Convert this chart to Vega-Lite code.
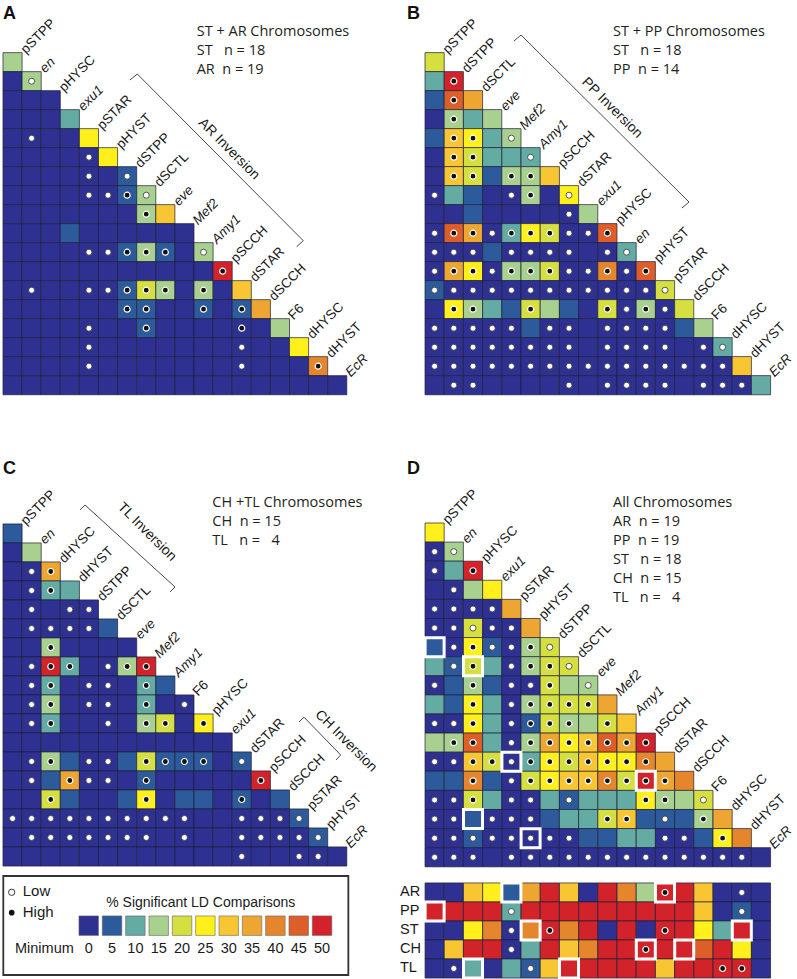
{
"$schema": "https://vega.github.io/schema/vega-lite/v6.json",
"padding": 0,
"background": "white",
"spacing": 5,
"bounds": "flush",
"columns": 2,
"config": {"view": {"stroke": null}, "axis": {"disable": true}},
"datasets": {
"A": [
{"r":0,"c":0,"v":15},
{"r":1,"c":0,"v":0},{"r":1,"c":1,"v":15,"d":"L"},
{"r":2,"c":0,"v":0},{"r":2,"c":1,"v":0},{"r":2,"c":2,"v":0},
{"r":3,"c":0,"v":0},{"r":3,"c":1,"v":0},{"r":3,"c":2,"v":0},{"r":3,"c":3,"v":10},
{"r":4,"c":0,"v":0},{"r":4,"c":1,"v":0,"d":"L"},{"r":4,"c":2,"v":0},{"r":4,"c":3,"v":0},{"r":4,"c":4,"v":25},
{"r":5,"c":0,"v":0},{"r":5,"c":1,"v":0},{"r":5,"c":2,"v":0},{"r":5,"c":3,"v":0},{"r":5,"c":4,"v":0,"d":"L"},{"r":5,"c":5,"v":25},
{"r":6,"c":0,"v":0},{"r":6,"c":1,"v":0},{"r":6,"c":2,"v":0},{"r":6,"c":3,"v":0},{"r":6,"c":4,"v":0,"d":"L"},{"r":6,"c":5,"v":0},{"r":6,"c":6,"v":5,"d":"L"},
{"r":7,"c":0,"v":0},{"r":7,"c":1,"v":0},{"r":7,"c":2,"v":0},{"r":7,"c":3,"v":0},{"r":7,"c":4,"v":0,"d":"L"},{"r":7,"c":5,"v":0,"d":"L"},{"r":7,"c":6,"v":5,"d":"H"},{"r":7,"c":7,"v":15,"d":"L"},
{"r":8,"c":0,"v":0},{"r":8,"c":1,"v":0},{"r":8,"c":2,"v":0},{"r":8,"c":3,"v":0},{"r":8,"c":4,"v":0},{"r":8,"c":5,"v":0},{"r":8,"c":6,"v":0},{"r":8,"c":7,"v":15,"d":"H"},{"r":8,"c":8,"v":30},
{"r":9,"c":0,"v":0},{"r":9,"c":1,"v":0},{"r":9,"c":2,"v":0},{"r":9,"c":3,"v":5},{"r":9,"c":4,"v":0},{"r":9,"c":5,"v":0},{"r":9,"c":6,"v":0},{"r":9,"c":7,"v":0},{"r":9,"c":8,"v":0},{"r":9,"c":9,"v":0},
{"r":10,"c":0,"v":0},{"r":10,"c":1,"v":0},{"r":10,"c":2,"v":0},{"r":10,"c":3,"v":0},{"r":10,"c":4,"v":0,"d":"L"},{"r":10,"c":5,"v":0,"d":"L"},{"r":10,"c":6,"v":5,"d":"H"},{"r":10,"c":7,"v":15,"d":"H"},{"r":10,"c":8,"v":5,"d":"H"},{"r":10,"c":9,"v":0},{"r":10,"c":10,"v":15,"d":"L"},
{"r":11,"c":0,"v":0},{"r":11,"c":1,"v":0},{"r":11,"c":2,"v":0},{"r":11,"c":3,"v":0},{"r":11,"c":4,"v":0},{"r":11,"c":5,"v":0},{"r":11,"c":6,"v":0},{"r":11,"c":7,"v":0},{"r":11,"c":8,"v":0},{"r":11,"c":9,"v":0},{"r":11,"c":10,"v":0},{"r":11,"c":11,"v":50,"d":"H"},
{"r":12,"c":0,"v":0},{"r":12,"c":1,"v":0,"d":"L"},{"r":12,"c":2,"v":0},{"r":12,"c":3,"v":0},{"r":12,"c":4,"v":0,"d":"L"},{"r":12,"c":5,"v":0,"d":"L"},{"r":12,"c":6,"v":5,"d":"H"},{"r":12,"c":7,"v":20,"d":"H"},{"r":12,"c":8,"v":15,"d":"H"},{"r":12,"c":9,"v":0},{"r":12,"c":10,"v":15,"d":"H"},{"r":12,"c":11,"v":0},{"r":12,"c":12,"v":30},
{"r":13,"c":0,"v":0},{"r":13,"c":1,"v":0},{"r":13,"c":2,"v":0},{"r":13,"c":3,"v":0},{"r":13,"c":4,"v":0},{"r":13,"c":5,"v":0},{"r":13,"c":6,"v":5,"d":"H"},{"r":13,"c":7,"v":5,"d":"H"},{"r":13,"c":8,"v":0},{"r":13,"c":9,"v":0},{"r":13,"c":10,"v":5,"d":"H"},{"r":13,"c":11,"v":0},{"r":13,"c":12,"v":5,"d":"H"},{"r":13,"c":13,"v":35},
{"r":14,"c":0,"v":0},{"r":14,"c":1,"v":0},{"r":14,"c":2,"v":0},{"r":14,"c":3,"v":0},{"r":14,"c":4,"v":0,"d":"L"},{"r":14,"c":5,"v":0},{"r":14,"c":6,"v":0},{"r":14,"c":7,"v":5,"d":"H"},{"r":14,"c":8,"v":0},{"r":14,"c":9,"v":0},{"r":14,"c":10,"v":0},{"r":14,"c":11,"v":0},{"r":14,"c":12,"v":0,"d":"H"},{"r":14,"c":13,"v":0},{"r":14,"c":14,"v":15},
{"r":15,"c":0,"v":0},{"r":15,"c":1,"v":0},{"r":15,"c":2,"v":0},{"r":15,"c":3,"v":0},{"r":15,"c":4,"v":0,"d":"L"},{"r":15,"c":5,"v":0},{"r":15,"c":6,"v":0},{"r":15,"c":7,"v":0},{"r":15,"c":8,"v":0},{"r":15,"c":9,"v":0},{"r":15,"c":10,"v":0},{"r":15,"c":11,"v":0},{"r":15,"c":12,"v":0,"d":"L"},{"r":15,"c":13,"v":0},{"r":15,"c":14,"v":0},{"r":15,"c":15,"v":25},
{"r":16,"c":0,"v":0},{"r":16,"c":1,"v":0},{"r":16,"c":2,"v":0},{"r":16,"c":3,"v":0},{"r":16,"c":4,"v":0,"d":"L"},{"r":16,"c":5,"v":0},{"r":16,"c":6,"v":0},{"r":16,"c":7,"v":0},{"r":16,"c":8,"v":0},{"r":16,"c":9,"v":0},{"r":16,"c":10,"v":0},{"r":16,"c":11,"v":0},{"r":16,"c":12,"v":0,"d":"L"},{"r":16,"c":13,"v":0},{"r":16,"c":14,"v":0},{"r":16,"c":15,"v":0},{"r":16,"c":16,"v":40,"d":"H"},
{"r":17,"c":0,"v":0},{"r":17,"c":1,"v":0},{"r":17,"c":2,"v":0},{"r":17,"c":3,"v":0},{"r":17,"c":4,"v":0},{"r":17,"c":5,"v":0},{"r":17,"c":6,"v":0},{"r":17,"c":7,"v":0},{"r":17,"c":8,"v":0},{"r":17,"c":9,"v":0},{"r":17,"c":10,"v":0},{"r":17,"c":11,"v":0},{"r":17,"c":12,"v":0},{"r":17,"c":13,"v":0},{"r":17,"c":14,"v":0},{"r":17,"c":15,"v":0},{"r":17,"c":16,"v":0},{"r":17,"c":17,"v":0}
],
"B": [
{"r":0,"c":0,"v":20},
{"r":1,"c":0,"v":10},{"r":1,"c":1,"v":50,"d":"H"},
{"r":2,"c":0,"v":5},{"r":2,"c":1,"v":45,"d":"H"},{"r":2,"c":2,"v":35},
{"r":3,"c":0,"v":0},{"r":3,"c":1,"v":15,"d":"H"},{"r":3,"c":2,"v":10},{"r":3,"c":3,"v":15},
{"r":4,"c":0,"v":5},{"r":4,"c":1,"v":30,"d":"H"},{"r":4,"c":2,"v":25,"d":"H"},{"r":4,"c":3,"v":10},{"r":4,"c":4,"v":15,"d":"L"},
{"r":5,"c":0,"v":0},{"r":5,"c":1,"v":30,"d":"H"},{"r":5,"c":2,"v":20,"d":"H"},{"r":5,"c":3,"v":10},{"r":5,"c":4,"v":10},{"r":5,"c":5,"v":10,"d":"L"},
{"r":6,"c":0,"v":0},{"r":6,"c":1,"v":30,"d":"H"},{"r":6,"c":2,"v":20,"d":"H"},{"r":6,"c":3,"v":5},{"r":6,"c":4,"v":15,"d":"H"},{"r":6,"c":5,"v":15,"d":"H"},{"r":6,"c":6,"v":30},
{"r":7,"c":0,"v":0,"d":"L"},{"r":7,"c":1,"v":10},{"r":7,"c":2,"v":5},{"r":7,"c":3,"v":0},{"r":7,"c":4,"v":0,"d":"L"},{"r":7,"c":5,"v":15,"d":"H"},{"r":7,"c":6,"v":0},{"r":7,"c":7,"v":25,"d":"L"},
{"r":8,"c":0,"v":0},{"r":8,"c":1,"v":0},{"r":8,"c":2,"v":5},{"r":8,"c":3,"v":0},{"r":8,"c":4,"v":0},{"r":8,"c":5,"v":0},{"r":8,"c":6,"v":0},{"r":8,"c":7,"v":0,"d":"L"},{"r":8,"c":8,"v":15},
{"r":9,"c":0,"v":0,"d":"L"},{"r":9,"c":1,"v":45,"d":"H"},{"r":9,"c":2,"v":35,"d":"H"},{"r":9,"c":3,"v":0,"d":"L"},{"r":9,"c":4,"v":10,"d":"H"},{"r":9,"c":5,"v":25,"d":"H"},{"r":9,"c":6,"v":20,"d":"H"},{"r":9,"c":7,"v":0,"d":"L"},{"r":9,"c":8,"v":0,"d":"L"},{"r":9,"c":9,"v":45,"d":"H"},
{"r":10,"c":0,"v":0,"d":"L"},{"r":10,"c":1,"v":0,"d":"L"},{"r":10,"c":2,"v":0,"d":"L"},{"r":10,"c":3,"v":5},{"r":10,"c":4,"v":0,"d":"L"},{"r":10,"c":5,"v":0,"d":"L"},{"r":10,"c":6,"v":0,"d":"L"},{"r":10,"c":7,"v":0,"d":"L"},{"r":10,"c":8,"v":0},{"r":10,"c":9,"v":0,"d":"L"},{"r":10,"c":10,"v":10,"d":"L"},
{"r":11,"c":0,"v":0,"d":"L"},{"r":11,"c":1,"v":35,"d":"H"},{"r":11,"c":2,"v":25,"d":"H"},{"r":11,"c":3,"v":0,"d":"L"},{"r":11,"c":4,"v":15,"d":"H"},{"r":11,"c":5,"v":15,"d":"H"},{"r":11,"c":6,"v":20,"d":"H"},{"r":11,"c":7,"v":0,"d":"L"},{"r":11,"c":8,"v":0,"d":"L"},{"r":11,"c":9,"v":40,"d":"H"},{"r":11,"c":10,"v":0,"d":"L"},{"r":11,"c":11,"v":45,"d":"H"},
{"r":12,"c":0,"v":5,"d":"L"},{"r":12,"c":1,"v":0,"d":"L"},{"r":12,"c":2,"v":0,"d":"L"},{"r":12,"c":3,"v":0,"d":"L"},{"r":12,"c":4,"v":0,"d":"L"},{"r":12,"c":5,"v":0,"d":"L"},{"r":12,"c":6,"v":0,"d":"L"},{"r":12,"c":7,"v":0,"d":"L"},{"r":12,"c":8,"v":0,"d":"L"},{"r":12,"c":9,"v":0,"d":"L"},{"r":12,"c":10,"v":0,"d":"L"},{"r":12,"c":11,"v":0,"d":"L"},{"r":12,"c":12,"v":20,"d":"L"},
{"r":13,"c":0,"v":0},{"r":13,"c":1,"v":25,"d":"H"},{"r":13,"c":2,"v":15,"d":"H"},{"r":13,"c":3,"v":10},{"r":13,"c":4,"v":5},{"r":13,"c":5,"v":20,"d":"H"},{"r":13,"c":6,"v":15},{"r":13,"c":7,"v":5},{"r":13,"c":8,"v":0},{"r":13,"c":9,"v":20,"d":"H"},{"r":13,"c":10,"v":0,"d":"L"},{"r":13,"c":11,"v":15,"d":"H"},{"r":13,"c":12,"v":0,"d":"L"},{"r":13,"c":13,"v":20},
{"r":14,"c":0,"v":0,"d":"L"},{"r":14,"c":1,"v":0,"d":"L"},{"r":14,"c":2,"v":0,"d":"L"},{"r":14,"c":3,"v":0,"d":"L"},{"r":14,"c":4,"v":0,"d":"L"},{"r":14,"c":5,"v":5},{"r":14,"c":6,"v":0,"d":"L"},{"r":14,"c":7,"v":0,"d":"L"},{"r":14,"c":8,"v":0},{"r":14,"c":9,"v":0,"d":"L"},{"r":14,"c":10,"v":0,"d":"L"},{"r":14,"c":11,"v":0,"d":"L"},{"r":14,"c":12,"v":0,"d":"L"},{"r":14,"c":13,"v":5},{"r":14,"c":14,"v":15},
{"r":15,"c":0,"v":0,"d":"L"},{"r":15,"c":1,"v":0,"d":"L"},{"r":15,"c":2,"v":0,"d":"L"},{"r":15,"c":3,"v":0,"d":"L"},{"r":15,"c":4,"v":0,"d":"L"},{"r":15,"c":5,"v":0,"d":"L"},{"r":15,"c":6,"v":0,"d":"L"},{"r":15,"c":7,"v":0,"d":"L"},{"r":15,"c":8,"v":0},{"r":15,"c":9,"v":0,"d":"L"},{"r":15,"c":10,"v":0,"d":"L"},{"r":15,"c":11,"v":0,"d":"L"},{"r":15,"c":12,"v":0,"d":"L"},{"r":15,"c":13,"v":0},{"r":15,"c":14,"v":0,"d":"L"},{"r":15,"c":15,"v":10,"d":"L"},
{"r":16,"c":0,"v":0,"d":"L"},{"r":16,"c":1,"v":0,"d":"L"},{"r":16,"c":2,"v":0,"d":"L"},{"r":16,"c":3,"v":0,"d":"L"},{"r":16,"c":4,"v":0,"d":"L"},{"r":16,"c":5,"v":0,"d":"L"},{"r":16,"c":6,"v":0,"d":"L"},{"r":16,"c":7,"v":0,"d":"L"},{"r":16,"c":8,"v":0,"d":"L"},{"r":16,"c":9,"v":0,"d":"L"},{"r":16,"c":10,"v":0,"d":"L"},{"r":16,"c":11,"v":0,"d":"L"},{"r":16,"c":12,"v":0,"d":"L"},{"r":16,"c":13,"v":0,"d":"L"},{"r":16,"c":14,"v":0,"d":"L"},{"r":16,"c":15,"v":0,"d":"L"},{"r":16,"c":16,"v":30},
{"r":17,"c":0,"v":0},{"r":17,"c":1,"v":0,"d":"L"},{"r":17,"c":2,"v":0,"d":"L"},{"r":17,"c":3,"v":0},{"r":17,"c":4,"v":0},{"r":17,"c":5,"v":0},{"r":17,"c":6,"v":0},{"r":17,"c":7,"v":0,"d":"L"},{"r":17,"c":8,"v":0},{"r":17,"c":9,"v":0,"d":"L"},{"r":17,"c":10,"v":0,"d":"L"},{"r":17,"c":11,"v":0,"d":"L"},{"r":17,"c":12,"v":0,"d":"L"},{"r":17,"c":13,"v":0},{"r":17,"c":14,"v":0,"d":"L"},{"r":17,"c":15,"v":0,"d":"L"},{"r":17,"c":16,"v":0,"d":"L"},{"r":17,"c":17,"v":10}
],
"C": [
{"r":0,"c":0,"v":5},
{"r":1,"c":0,"v":0},{"r":1,"c":1,"v":15},
{"r":2,"c":0,"v":0},{"r":2,"c":1,"v":0,"d":"L"},{"r":2,"c":2,"v":35,"d":"H"},
{"r":3,"c":0,"v":0},{"r":3,"c":1,"v":0,"d":"L"},{"r":3,"c":2,"v":10,"d":"H"},{"r":3,"c":3,"v":10},
{"r":4,"c":0,"v":0},{"r":4,"c":1,"v":0,"d":"L"},{"r":4,"c":2,"v":0},{"r":4,"c":3,"v":0,"d":"L"},{"r":4,"c":4,"v":0,"d":"L"},
{"r":5,"c":0,"v":0},{"r":5,"c":1,"v":0,"d":"L"},{"r":5,"c":2,"v":0,"d":"L"},{"r":5,"c":3,"v":0,"d":"L"},{"r":5,"c":4,"v":0,"d":"L"},{"r":5,"c":5,"v":5},
{"r":6,"c":0,"v":0},{"r":6,"c":1,"v":0},{"r":6,"c":2,"v":15,"d":"H"},{"r":6,"c":3,"v":0},{"r":6,"c":4,"v":0},{"r":6,"c":5,"v":0},{"r":6,"c":6,"v":0},
{"r":7,"c":0,"v":0},{"r":7,"c":1,"v":0,"d":"L"},{"r":7,"c":2,"v":50,"d":"H"},{"r":7,"c":3,"v":10,"d":"H"},{"r":7,"c":4,"v":0},{"r":7,"c":5,"v":0,"d":"L"},{"r":7,"c":6,"v":15,"d":"H"},{"r":7,"c":7,"v":50,"d":"H"},
{"r":8,"c":0,"v":0},{"r":8,"c":1,"v":0,"d":"L"},{"r":8,"c":2,"v":10,"d":"H"},{"r":8,"c":3,"v":0},{"r":8,"c":4,"v":0,"d":"L"},{"r":8,"c":5,"v":0,"d":"L"},{"r":8,"c":6,"v":0},{"r":8,"c":7,"v":10,"d":"H"},{"r":8,"c":8,"v":5},
{"r":9,"c":0,"v":0},{"r":9,"c":1,"v":0,"d":"L"},{"r":9,"c":2,"v":15,"d":"H"},{"r":9,"c":3,"v":0},{"r":9,"c":4,"v":0,"d":"L"},{"r":9,"c":5,"v":0,"d":"L"},{"r":9,"c":6,"v":0},{"r":9,"c":7,"v":10,"d":"H"},{"r":9,"c":8,"v":0},{"r":9,"c":9,"v":0,"d":"L"},
{"r":10,"c":0,"v":0},{"r":10,"c":1,"v":0,"d":"L"},{"r":10,"c":2,"v":10,"d":"H"},{"r":10,"c":3,"v":0},{"r":10,"c":4,"v":0},{"r":10,"c":5,"v":0,"d":"L"},{"r":10,"c":6,"v":0},{"r":10,"c":7,"v":15,"d":"H"},{"r":10,"c":8,"v":20,"d":"H"},{"r":10,"c":9,"v":0},{"r":10,"c":10,"v":25,"d":"H"},
{"r":11,"c":0,"v":0},{"r":11,"c":1,"v":0},{"r":11,"c":2,"v":0},{"r":11,"c":3,"v":0},{"r":11,"c":4,"v":0},{"r":11,"c":5,"v":0},{"r":11,"c":6,"v":0},{"r":11,"c":7,"v":0},{"r":11,"c":8,"v":0},{"r":11,"c":9,"v":0},{"r":11,"c":10,"v":0},{"r":11,"c":11,"v":0},
{"r":12,"c":0,"v":0},{"r":12,"c":1,"v":0,"d":"L"},{"r":12,"c":2,"v":15,"d":"H"},{"r":12,"c":3,"v":5},{"r":12,"c":4,"v":0,"d":"L"},{"r":12,"c":5,"v":0,"d":"L"},{"r":12,"c":6,"v":5},{"r":12,"c":7,"v":20,"d":"H"},{"r":12,"c":8,"v":5,"d":"H"},{"r":12,"c":9,"v":5,"d":"H"},{"r":12,"c":10,"v":5,"d":"H"},{"r":12,"c":11,"v":0},{"r":12,"c":12,"v":5,"d":"L"},
{"r":13,"c":0,"v":0},{"r":13,"c":1,"v":0,"d":"L"},{"r":13,"c":2,"v":5},{"r":13,"c":3,"v":35,"d":"H"},{"r":13,"c":4,"v":0,"d":"L"},{"r":13,"c":5,"v":0,"d":"L"},{"r":13,"c":6,"v":0},{"r":13,"c":7,"v":5,"d":"H"},{"r":13,"c":8,"v":0},{"r":13,"c":9,"v":0},{"r":13,"c":10,"v":0},{"r":13,"c":11,"v":0},{"r":13,"c":12,"v":0},{"r":13,"c":13,"v":50,"d":"H"},
{"r":14,"c":0,"v":0},{"r":14,"c":1,"v":0},{"r":14,"c":2,"v":20,"d":"H"},{"r":14,"c":3,"v":5},{"r":14,"c":4,"v":0},{"r":14,"c":5,"v":0},{"r":14,"c":6,"v":5},{"r":14,"c":7,"v":25,"d":"H"},{"r":14,"c":8,"v":0},{"r":14,"c":9,"v":5},{"r":14,"c":10,"v":5},{"r":14,"c":11,"v":0},{"r":14,"c":12,"v":5,"d":"H"},{"r":14,"c":13,"v":0},{"r":14,"c":14,"v":5},
{"r":15,"c":0,"v":0,"d":"L"},{"r":15,"c":1,"v":0,"d":"L"},{"r":15,"c":2,"v":0,"d":"L"},{"r":15,"c":3,"v":0,"d":"L"},{"r":15,"c":4,"v":0,"d":"L"},{"r":15,"c":5,"v":0,"d":"L"},{"r":15,"c":6,"v":0,"d":"L"},{"r":15,"c":7,"v":0,"d":"L"},{"r":15,"c":8,"v":0,"d":"L"},{"r":15,"c":9,"v":0,"d":"L"},{"r":15,"c":10,"v":0},{"r":15,"c":11,"v":0},{"r":15,"c":12,"v":0,"d":"L"},{"r":15,"c":13,"v":0,"d":"L"},{"r":15,"c":14,"v":0,"d":"L"},{"r":15,"c":15,"v":5,"d":"L"},
{"r":16,"c":0,"v":0},{"r":16,"c":1,"v":0,"d":"L"},{"r":16,"c":2,"v":0,"d":"L"},{"r":16,"c":3,"v":0,"d":"L"},{"r":16,"c":4,"v":0,"d":"L"},{"r":16,"c":5,"v":0,"d":"L"},{"r":16,"c":6,"v":0,"d":"L"},{"r":16,"c":7,"v":0,"d":"L"},{"r":16,"c":8,"v":0},{"r":16,"c":9,"v":0,"d":"L"},{"r":16,"c":10,"v":0},{"r":16,"c":11,"v":0},{"r":16,"c":12,"v":0,"d":"L"},{"r":16,"c":13,"v":0,"d":"L"},{"r":16,"c":14,"v":0,"d":"L"},{"r":16,"c":15,"v":0,"d":"L"},{"r":16,"c":16,"v":5,"d":"L"},
{"r":17,"c":0,"v":0},{"r":17,"c":1,"v":0},{"r":17,"c":2,"v":0},{"r":17,"c":3,"v":0},{"r":17,"c":4,"v":0},{"r":17,"c":5,"v":0},{"r":17,"c":6,"v":0},{"r":17,"c":7,"v":0},{"r":17,"c":8,"v":0},{"r":17,"c":9,"v":0},{"r":17,"c":10,"v":0},{"r":17,"c":11,"v":0},{"r":17,"c":12,"v":0,"d":"L"},{"r":17,"c":13,"v":0},{"r":17,"c":14,"v":0},{"r":17,"c":15,"v":0,"d":"L"},{"r":17,"c":16,"v":0,"d":"L"},{"r":17,"c":17,"v":0}
],
"D": [
{"r":0,"c":0,"v":25},
{"r":1,"c":0,"v":0,"d":"L"},{"r":1,"c":1,"v":15,"d":"L"},
{"r":2,"c":0,"v":0,"d":"L"},{"r":2,"c":1,"v":10},{"r":2,"c":2,"v":50,"d":"H"},
{"r":3,"c":0,"v":0},{"r":3,"c":1,"v":0,"d":"L"},{"r":3,"c":2,"v":15},{"r":3,"c":3,"v":25},
{"r":4,"c":0,"v":0,"d":"L"},{"r":4,"c":1,"v":0,"d":"L"},{"r":4,"c":2,"v":0,"d":"L"},{"r":4,"c":3,"v":0,"d":"L"},{"r":4,"c":4,"v":35},
{"r":5,"c":0,"v":0,"d":"L"},{"r":5,"c":1,"v":0,"d":"L"},{"r":5,"c":2,"v":20,"d":"L"},{"r":5,"c":3,"v":0,"d":"L"},{"r":5,"c":4,"v":0,"d":"L"},{"r":5,"c":5,"v":35},
{"r":6,"c":0,"v":5,"b":1},{"r":6,"c":1,"v":0,"d":"L"},{"r":6,"c":2,"v":25,"d":"H"},{"r":6,"c":3,"v":5,"d":"L"},{"r":6,"c":4,"v":0,"d":"L"},{"r":6,"c":5,"v":15,"d":"H"},{"r":6,"c":6,"v":20,"d":"L"},
{"r":7,"c":0,"v":10},{"r":7,"c":1,"v":5,"d":"L"},{"r":7,"c":2,"v":20,"d":"H","b":1},{"r":7,"c":3,"v":10},{"r":7,"c":4,"v":0,"d":"L"},{"r":7,"c":5,"v":15,"d":"H"},{"r":7,"c":6,"v":20,"d":"H"},{"r":7,"c":7,"v":20,"d":"L"},
{"r":8,"c":0,"v":0,"d":"L"},{"r":8,"c":1,"v":5},{"r":8,"c":2,"v":15,"d":"H"},{"r":8,"c":3,"v":5},{"r":8,"c":4,"v":0,"d":"L"},{"r":8,"c":5,"v":0,"d":"L"},{"r":8,"c":6,"v":20,"d":"H"},{"r":8,"c":7,"v":15},{"r":8,"c":8,"v":15,"d":"L"},
{"r":9,"c":0,"v":10},{"r":9,"c":1,"v":5},{"r":9,"c":2,"v":25,"d":"H"},{"r":9,"c":3,"v":10},{"r":9,"c":4,"v":0,"d":"L"},{"r":9,"c":5,"v":15,"d":"H"},{"r":9,"c":6,"v":20,"d":"H"},{"r":9,"c":7,"v":20,"d":"H"},{"r":9,"c":8,"v":20,"d":"H"},{"r":9,"c":9,"v":35},
{"r":10,"c":0,"v":0,"d":"L"},{"r":10,"c":1,"v":0,"d":"L"},{"r":10,"c":2,"v":25,"d":"H"},{"r":10,"c":3,"v":10},{"r":10,"c":4,"v":0,"d":"L"},{"r":10,"c":5,"v":5,"d":"H"},{"r":10,"c":6,"v":20,"d":"H"},{"r":10,"c":7,"v":15,"d":"H"},{"r":10,"c":8,"v":15},{"r":10,"c":9,"v":20,"d":"H"},{"r":10,"c":10,"v":30},
{"r":11,"c":0,"v":15},{"r":11,"c":1,"v":15,"d":"H"},{"r":11,"c":2,"v":45,"d":"H"},{"r":11,"c":3,"v":10},{"r":11,"c":4,"v":0,"d":"L"},{"r":11,"c":5,"v":15,"d":"H"},{"r":11,"c":6,"v":35,"d":"H"},{"r":11,"c":7,"v":25,"d":"H"},{"r":11,"c":8,"v":30,"d":"H"},{"r":11,"c":9,"v":45,"d":"H"},{"r":11,"c":10,"v":35,"d":"H"},{"r":11,"c":11,"v":50,"d":"H"},
{"r":12,"c":0,"v":0,"d":"L"},{"r":12,"c":1,"v":0,"d":"L"},{"r":12,"c":2,"v":30,"d":"H"},{"r":12,"c":3,"v":20,"d":"H"},{"r":12,"c":4,"v":0,"d":"L","b":1},{"r":12,"c":5,"v":10,"d":"H"},{"r":12,"c":6,"v":25,"d":"H"},{"r":12,"c":7,"v":20,"d":"H"},{"r":12,"c":8,"v":30,"d":"H"},{"r":12,"c":9,"v":25,"d":"H"},{"r":12,"c":10,"v":25,"d":"H"},{"r":12,"c":11,"v":40,"d":"H"},{"r":12,"c":12,"v":35},
{"r":13,"c":0,"v":5},{"r":13,"c":1,"v":5},{"r":13,"c":2,"v":40,"d":"H"},{"r":13,"c":3,"v":5},{"r":13,"c":4,"v":0,"d":"L"},{"r":13,"c":5,"v":20,"d":"H"},{"r":13,"c":6,"v":25,"d":"H"},{"r":13,"c":7,"v":30,"d":"H"},{"r":13,"c":8,"v":30,"d":"H"},{"r":13,"c":9,"v":40,"d":"H"},{"r":13,"c":10,"v":20,"d":"H"},{"r":13,"c":11,"v":50,"d":"H","b":1},{"r":13,"c":12,"v":35,"d":"H"},{"r":13,"c":13,"v":40},
{"r":14,"c":0,"v":0,"d":"L"},{"r":14,"c":1,"v":0,"d":"L"},{"r":14,"c":2,"v":20,"d":"H"},{"r":14,"c":3,"v":10},{"r":14,"c":4,"v":0,"d":"L"},{"r":14,"c":5,"v":0,"d":"L"},{"r":14,"c":6,"v":10},{"r":14,"c":7,"v":5,"d":"L"},{"r":14,"c":8,"v":10},{"r":14,"c":9,"v":10},{"r":14,"c":10,"v":10},{"r":14,"c":11,"v":25,"d":"H"},{"r":14,"c":12,"v":15,"d":"H"},{"r":14,"c":13,"v":15},{"r":14,"c":14,"v":20,"d":"L"},
{"r":15,"c":0,"v":0,"d":"L"},{"r":15,"c":1,"v":0,"d":"L"},{"r":15,"c":2,"v":5,"b":1},{"r":15,"c":3,"v":0,"d":"L"},{"r":15,"c":4,"v":0,"d":"L"},{"r":15,"c":5,"v":0,"d":"L"},{"r":15,"c":6,"v":5},{"r":15,"c":7,"v":10},{"r":15,"c":8,"v":10},{"r":15,"c":9,"v":20,"d":"H"},{"r":15,"c":10,"v":30,"d":"H"},{"r":15,"c":11,"v":5},{"r":15,"c":12,"v":5,"d":"L"},{"r":15,"c":13,"v":5},{"r":15,"c":14,"v":15,"d":"H"},{"r":15,"c":15,"v":35},
{"r":16,"c":0,"v":0,"d":"L"},{"r":16,"c":1,"v":0,"d":"L"},{"r":16,"c":2,"v":5,"d":"L"},{"r":16,"c":3,"v":0,"d":"L"},{"r":16,"c":4,"v":0,"d":"L"},{"r":16,"c":5,"v":0,"d":"L","b":1},{"r":16,"c":6,"v":0,"d":"L"},{"r":16,"c":7,"v":0,"d":"L"},{"r":16,"c":8,"v":5},{"r":16,"c":9,"v":5},{"r":16,"c":10,"v":10},{"r":16,"c":11,"v":10},{"r":16,"c":12,"v":0,"d":"L"},{"r":16,"c":13,"v":0,"d":"L"},{"r":16,"c":14,"v":5},{"r":16,"c":15,"v":25,"d":"H"},{"r":16,"c":16,"v":40},
{"r":17,"c":0,"v":0,"d":"L"},{"r":17,"c":1,"v":0,"d":"L"},{"r":17,"c":2,"v":0,"d":"L"},{"r":17,"c":3,"v":0},{"r":17,"c":4,"v":0,"d":"L"},{"r":17,"c":5,"v":0,"d":"L"},{"r":17,"c":6,"v":0,"d":"L"},{"r":17,"c":7,"v":0,"d":"L"},{"r":17,"c":8,"v":0,"d":"L"},{"r":17,"c":9,"v":0,"d":"L"},{"r":17,"c":10,"v":0,"d":"L"},{"r":17,"c":11,"v":0,"d":"L"},{"r":17,"c":12,"v":0,"d":"L"},{"r":17,"c":13,"v":0,"d":"L"},{"r":17,"c":14,"v":0,"d":"L"},{"r":17,"c":15,"v":0,"d":"L"},{"r":17,"c":16,"v":0,"d":"L"},{"r":17,"c":17,"v":0}
],
"S": [
{"r":0,"c":0,"v":0},{"r":0,"c":1,"v":0},{"r":0,"c":2,"v":30},{"r":0,"c":3,"v":25},{"r":0,"c":4,"v":5,"b":1},{"r":0,"c":5,"v":35},{"r":0,"c":6,"v":50},{"r":0,"c":7,"v":30},{"r":0,"c":8,"v":0},{"r":0,"c":9,"v":50},{"r":0,"c":10,"v":40},{"r":0,"c":11,"v":15},{"r":0,"c":12,"v":50,"d":"H","b":1},{"r":0,"c":13,"v":50},{"r":0,"c":14,"v":30},{"r":0,"c":15,"v":0},{"r":0,"c":16,"v":0,"d":"L"},{"r":0,"c":17,"v":0},
{"r":1,"c":0,"v":50,"b":1},{"r":1,"c":1,"v":50},{"r":1,"c":2,"v":50},{"r":1,"c":3,"v":50},{"r":1,"c":4,"v":10,"d":"L"},{"r":1,"c":5,"v":50},{"r":1,"c":6,"v":50},{"r":1,"c":7,"v":50},{"r":1,"c":8,"v":50},{"r":1,"c":9,"v":50},{"r":1,"c":10,"v":50},{"r":1,"c":11,"v":50},{"r":1,"c":12,"v":50},{"r":1,"c":13,"v":50},{"r":1,"c":14,"v":30},{"r":1,"c":15,"v":0},{"r":1,"c":16,"v":5,"d":"L"},{"r":1,"c":17,"v":0},
{"r":2,"c":0,"v":0},{"r":2,"c":1,"v":0},{"r":2,"c":2,"v":25},{"r":2,"c":3,"v":40},{"r":2,"c":4,"v":0,"d":"L"},{"r":2,"c":5,"v":40,"b":1},{"r":2,"c":6,"v":50,"d":"H"},{"r":2,"c":7,"v":40},{"r":2,"c":8,"v":50},{"r":2,"c":9,"v":0},{"r":2,"c":10,"v":50},{"r":2,"c":11,"v":0},{"r":2,"c":12,"v":50,"d":"H"},{"r":2,"c":13,"v":50},{"r":2,"c":14,"v":25},{"r":2,"c":15,"v":10},{"r":2,"c":16,"v":50,"b":1},{"r":2,"c":17,"v":0},
{"r":3,"c":0,"v":0},{"r":3,"c":1,"v":30},{"r":3,"c":2,"v":50},{"r":3,"c":3,"v":50},{"r":3,"c":4,"v":0,"d":"L"},{"r":3,"c":5,"v":10},{"r":3,"c":6,"v":50},{"r":3,"c":7,"v":30},{"r":3,"c":8,"v":40},{"r":3,"c":9,"v":50},{"r":3,"c":10,"v":50},{"r":3,"c":11,"v":50,"d":"H","b":1},{"r":3,"c":12,"v":50},{"r":3,"c":13,"v":50,"b":1},{"r":3,"c":14,"v":45},{"r":3,"c":15,"v":50},{"r":3,"c":16,"v":25},{"r":3,"c":17,"v":0},
{"r":4,"c":0,"v":0},{"r":4,"c":1,"v":0,"d":"L"},{"r":4,"c":2,"v":10,"b":1},{"r":4,"c":3,"v":0},{"r":4,"c":4,"v":10},{"r":4,"c":5,"v":5,"d":"L"},{"r":4,"c":6,"v":30},{"r":4,"c":7,"v":50,"b":1},{"r":4,"c":8,"v":50},{"r":4,"c":9,"v":50},{"r":4,"c":10,"v":50},{"r":4,"c":11,"v":50},{"r":4,"c":12,"v":30},{"r":4,"c":13,"v":50},{"r":4,"c":14,"v":50},{"r":4,"c":15,"v":50,"d":"H"},{"r":4,"c":16,"v":50,"d":"H"},{"r":4,"c":17,"v":0}
],
"labAD": [
{"i":0,"t":"pSTPP"},{"i":1,"t":"en","it":1},{"i":2,"t":"pHYSC"},{"i":3,"t":"exu1","it":1},{"i":4,"t":"pSTAR"},{"i":5,"t":"pHYST"},{"i":6,"t":"dSTPP"},{"i":7,"t":"dSCTL"},{"i":8,"t":"eve","it":1},{"i":9,"t":"Mef2","it":1},{"i":10,"t":"Amy1","it":1},{"i":11,"t":"pSCCH"},{"i":12,"t":"dSTAR"},{"i":13,"t":"dSCCH"},{"i":14,"t":"F6"},{"i":15,"t":"dHYSC"},{"i":16,"t":"dHYST"},{"i":17,"t":"EcR","it":1}
],
"labB": [
{"i":0,"t":"pSTPP"},{"i":1,"t":"dSTPP"},{"i":2,"t":"dSCTL"},{"i":3,"t":"eve","it":1},{"i":4,"t":"Mef2","it":1},{"i":5,"t":"Amy1","it":1},{"i":6,"t":"pSCCH"},{"i":7,"t":"dSTAR"},{"i":8,"t":"exu1","it":1},{"i":9,"t":"pHYSC"},{"i":10,"t":"en","it":1},{"i":11,"t":"pHYST"},{"i":12,"t":"pSTAR"},{"i":13,"t":"dSCCH"},{"i":14,"t":"F6"},{"i":15,"t":"dHYSC"},{"i":16,"t":"dHYST"},{"i":17,"t":"EcR","it":1}
],
"labC": [
{"i":0,"t":"pSTPP"},{"i":1,"t":"en","it":1},{"i":2,"t":"dHYSC"},{"i":3,"t":"dHYST"},{"i":4,"t":"dSTPP"},{"i":5,"t":"dSCTL"},{"i":6,"t":"eve","it":1},{"i":7,"t":"Mef2","it":1},{"i":8,"t":"Amy1","it":1},{"i":9,"t":"F6"},{"i":10,"t":"pHYSC"},{"i":11,"t":"exu1","it":1},{"i":12,"t":"dSTAR"},{"i":13,"t":"pSCCH"},{"i":14,"t":"dSCCH"},{"i":15,"t":"pSTAR"},{"i":16,"t":"pHYST"},{"i":17,"t":"EcR","it":1}
],
"leg": [
{"v":0,"t":"0"},{"v":5,"t":"5"},{"v":10,"t":"10"},{"v":15,"t":"15"},{"v":20,"t":"20"},{"v":25,"t":"25"},{"v":30,"t":"30"},{"v":35,"t":"35"},{"v":40,"t":"40"},{"v":45,"t":"45"},{"v":50,"t":"50"}
],
"rows": [
{"r":0,"t":"AR"},{"r":1,"t":"PP"},{"r":2,"t":"ST"},{"r":3,"t":"CH"},{"r":4,"t":"TL"}
]
},
"concat": [
{"width": 400, "height": 395,
 "layer": [
  {"data": {"name": "A"}, "mark": {"type": "square", "size": 365, "filled": true, "opacity": 1, "stroke": "#1e1e38", "strokeWidth": 0.7},
   "encoding": {"x": {"field": "c", "type": "quantitative", "scale": {"domain": [-0.657, 20.285], "nice": false, "zero": false}, "axis": null},
    "y": {"field": "r", "type": "quantitative", "scale": {"domain": [-3.274, 17.516], "nice": false, "zero": false, "reverse": true}, "axis": null},
    "fill": {"field": "v", "type": "ordinal", "scale": {"domain": [0,5,10,15,20,25,30,35,40,45,50], "range": ["#2E3192","#2C5A9B","#64ABA3","#A8D08E","#D5DF3F","#FFEF1A","#F8C633","#EEA633","#E6862C","#DD5E28","#D2232A"]}, "legend": null}}},
  {"data": {"name": "A"}, "transform": [{"filter": "datum.d == 'L'"}], "mark": {"type": "circle", "size": 36, "opacity": 1, "fill": "#ffffff", "stroke": "#333333", "strokeWidth": 0.8}, "encoding": {"x": {"field": "c", "type": "quantitative"}, "y": {"field": "r", "type": "quantitative"}}},
  {"data": {"name": "A"}, "transform": [{"filter": "datum.d == 'H'"}], "mark": {"type": "circle", "size": 36, "opacity": 1, "fill": "#111111", "stroke": "#ffffff", "strokeWidth": 1.2}, "encoding": {"x": {"field": "c", "type": "quantitative"}, "y": {"field": "r", "type": "quantitative"}}},
  {"data": {"name": "labAD"}, "transform": [{"filter": "!datum.it"}], "mark": {"type": "text", "angle": -45, "align": "left", "baseline": "middle", "dx": 15, "font": "Liberation Sans", "fontSize": 13.5, "color": "#1a1a1a"}, "encoding": {"x": {"field": "i", "type": "quantitative"}, "y": {"field": "i", "type": "quantitative"}, "text": {"field": "t"}}},
  {"data": {"name": "labAD"}, "transform": [{"filter": "datum.it"}], "mark": {"type": "text", "angle": -45, "align": "left", "baseline": "middle", "dx": 15, "font": "Liberation Sans", "fontStyle": "italic", "fontSize": 13.5, "color": "#1a1a1a"}, "encoding": {"x": {"field": "i", "type": "quantitative"}, "y": {"field": "i", "type": "quantitative"}, "text": {"field": "t"}}},
  {"data": {"values": [{}]}, "mark": {"type": "text", "align": "left", "baseline": "alphabetic", "font": "Open Sans", "fontSize": 14.5, "lineHeight": 19, "color": "#231f20"}, "encoding": {"x": {"datum": 9.641, "type": "quantitative"}, "y": {"datum": -1.379, "type": "quantitative"}, "text": {"value": ["ST + AR Chromosomes", "ST\u00a0\u00a0\u00a0n = 18", "AR\u00a0\u00a0n = 19"]}}},
  {"data": {"values": [{}]}, "mark": {"type": "text", "align": "left", "baseline": "alphabetic", "font": "Liberation Sans", "fontSize": 18, "fontWeight": "bold", "color": "#111"}, "encoding": {"x": {"datum": -0.5, "type": "quantitative"}, "y": {"datum": -2.274, "type": "quantitative"}, "text": {"value": "A"}}},
  {"data": {"values": [{"x":6.149,"y":0.937,"o":0},{"x":6.531,"y":0.621,"o":1},{"x":15.222,"y":9.395,"o":2},{"x":14.876,"y":9.711,"o":3}]}, "mark": {"type": "line", "color": "#333333", "strokeWidth": 0.9}, "encoding": {"x": {"field": "x", "type": "quantitative"}, "y": {"field": "y", "type": "quantitative"}, "order": {"field": "o", "type": "quantitative"}}},
  {"data": {"values": [{}]}, "mark": {"type": "text", "angle": 45, "align": "center", "baseline": "middle", "font": "Liberation Sans", "fontSize": 14, "color": "#1a1a1a"}, "encoding": {"x": {"datum": 11.332, "type": "quantitative"}, "y": {"datum": 4.568, "type": "quantitative"}, "text": {"value": "AR Inversion"}}}
 ]},
{"width": 392, "height": 395,
 "layer": [
  {"data": {"name": "B"}, "mark": {"type": "square", "size": 368, "filled": true, "opacity": 1, "stroke": "#1e1e38", "strokeWidth": 0.7},
   "encoding": {"x": {"field": "c", "type": "quantitative", "scale": {"domain": [-1.542, 18.875], "nice": false, "zero": false}, "axis": null},
    "y": {"field": "r", "type": "quantitative", "scale": {"domain": [-3.274, 17.516], "nice": false, "zero": false, "reverse": true}, "axis": null},
    "fill": {"field": "v", "type": "ordinal", "scale": {"domain": [0,5,10,15,20,25,30,35,40,45,50], "range": ["#2E3192","#2C5A9B","#64ABA3","#A8D08E","#D5DF3F","#FFEF1A","#F8C633","#EEA633","#E6862C","#DD5E28","#D2232A"]}, "legend": null}}},
  {"data": {"name": "B"}, "transform": [{"filter": "datum.d == 'L'"}], "mark": {"type": "circle", "size": 36, "opacity": 1, "fill": "#ffffff", "stroke": "#333333", "strokeWidth": 0.8}, "encoding": {"x": {"field": "c", "type": "quantitative"}, "y": {"field": "r", "type": "quantitative"}}},
  {"data": {"name": "B"}, "transform": [{"filter": "datum.d == 'H'"}], "mark": {"type": "circle", "size": 36, "opacity": 1, "fill": "#111111", "stroke": "#ffffff", "strokeWidth": 1.2}, "encoding": {"x": {"field": "c", "type": "quantitative"}, "y": {"field": "r", "type": "quantitative"}}},
  {"data": {"name": "labB"}, "transform": [{"filter": "!datum.it"}], "mark": {"type": "text", "angle": -45, "align": "left", "baseline": "middle", "dx": 15, "font": "Liberation Sans", "fontSize": 13.5, "color": "#1a1a1a"}, "encoding": {"x": {"field": "i", "type": "quantitative"}, "y": {"field": "i", "type": "quantitative"}, "text": {"field": "t"}}},
  {"data": {"name": "labB"}, "transform": [{"filter": "datum.it"}], "mark": {"type": "text", "angle": -45, "align": "left", "baseline": "middle", "dx": 15, "font": "Liberation Sans", "fontStyle": "italic", "fontSize": 13.5, "color": "#1a1a1a"}, "encoding": {"x": {"field": "i", "type": "quantitative"}, "y": {"field": "i", "type": "quantitative"}, "text": {"field": "t"}}},
  {"data": {"values": [{}]}, "mark": {"type": "text", "align": "left", "baseline": "alphabetic", "font": "Open Sans", "fontSize": 14.5, "lineHeight": 19, "color": "#231f20"}, "encoding": {"x": {"datum": 9.292, "type": "quantitative"}, "y": {"datum": -1.379, "type": "quantitative"}, "text": {"value": ["ST + PP Chromosomes", "ST\u00a0\u00a0\u00a0n = 18", "PP\u00a0\u00a0n = 14"]}}},
  {"data": {"values": [{}]}, "mark": {"type": "text", "align": "left", "baseline": "alphabetic", "font": "Liberation Sans", "fontSize": 18, "fontWeight": "bold", "color": "#111"}, "encoding": {"x": {"datum": -1.4375, "type": "quantitative"}, "y": {"datum": -2.274, "type": "quantitative"}, "text": {"value": "B"}}},
  {"data": {"values": [{"x":4.135,"y":-1.116,"o":0},{"x":4.5,"y":-1.432,"o":1},{"x":13.25,"y":7.358,"o":2},{"x":12.885,"y":7.674,"o":3}]}, "mark": {"type": "line", "color": "#333333", "strokeWidth": 0.9}, "encoding": {"x": {"field": "x", "type": "quantitative"}, "y": {"field": "y", "type": "quantitative"}, "order": {"field": "o", "type": "quantitative"}}},
  {"data": {"values": [{}]}, "mark": {"type": "text", "angle": 45, "align": "center", "baseline": "middle", "font": "Liberation Sans", "fontSize": 14, "color": "#1a1a1a"}, "encoding": {"x": {"datum": 9.24, "type": "quantitative"}, "y": {"datum": 2.411, "type": "quantitative"}, "text": {"value": "PP Inversion"}}}
 ]},
{"width": 400, "height": 467,
 "layer": [
  {"data": {"name": "C"}, "mark": {"type": "square", "size": 365, "filled": true, "opacity": 1, "stroke": "#1e1e38", "strokeWidth": 0.7},
   "encoding": {"x": {"field": "c", "type": "quantitative", "scale": {"domain": [-0.657, 20.285], "nice": false, "zero": false}, "axis": null},
    "y": {"field": "r", "type": "quantitative", "scale": {"domain": [-7.026, 17.553], "nice": false, "zero": false, "reverse": true}, "axis": null},
    "fill": {"field": "v", "type": "ordinal", "scale": {"domain": [0,5,10,15,20,25,30,35,40,45,50], "range": ["#2E3192","#2C5A9B","#64ABA3","#A8D08E","#D5DF3F","#FFEF1A","#F8C633","#EEA633","#E6862C","#DD5E28","#D2232A"]}, "legend": null}}},
  {"data": {"name": "C"}, "transform": [{"filter": "datum.d == 'L'"}], "mark": {"type": "circle", "size": 36, "opacity": 1, "fill": "#ffffff", "stroke": "#333333", "strokeWidth": 0.8}, "encoding": {"x": {"field": "c", "type": "quantitative"}, "y": {"field": "r", "type": "quantitative"}}},
  {"data": {"name": "C"}, "transform": [{"filter": "datum.d == 'H'"}], "mark": {"type": "circle", "size": 36, "opacity": 1, "fill": "#111111", "stroke": "#ffffff", "strokeWidth": 1.2}, "encoding": {"x": {"field": "c", "type": "quantitative"}, "y": {"field": "r", "type": "quantitative"}}},
  {"data": {"name": "labC"}, "transform": [{"filter": "!datum.it"}], "mark": {"type": "text", "angle": -45, "align": "left", "baseline": "middle", "dx": 15, "font": "Liberation Sans", "fontSize": 13.5, "color": "#1a1a1a"}, "encoding": {"x": {"field": "i", "type": "quantitative"}, "y": {"field": "i", "type": "quantitative"}, "text": {"field": "t"}}},
  {"data": {"name": "labC"}, "transform": [{"filter": "datum.it"}], "mark": {"type": "text", "angle": -45, "align": "left", "baseline": "middle", "dx": 15, "font": "Liberation Sans", "fontStyle": "italic", "fontSize": 13.5, "color": "#1a1a1a"}, "encoding": {"x": {"field": "i", "type": "quantitative"}, "y": {"field": "i", "type": "quantitative"}, "text": {"field": "t"}}},
  {"data": {"values": [{}]}, "mark": {"type": "text", "align": "left", "baseline": "alphabetic", "font": "Open Sans", "fontSize": 14.5, "lineHeight": 19, "color": "#231f20"}, "encoding": {"x": {"datum": 10.458, "type": "quantitative"}, "y": {"datum": -1.411, "type": "quantitative"}, "text": {"value": ["CH +TL Chromosomes", "CH\u00a0\u00a0n = 15", "TL\u00a0\u00a0\u00a0n =\u00a0\u00a0\u00a04"]}}},
  {"data": {"values": [{}]}, "mark": {"type": "text", "align": "left", "baseline": "alphabetic", "font": "Liberation Sans", "fontSize": 18, "fontWeight": "bold", "color": "#111"}, "encoding": {"x": {"datum": -0.5, "type": "quantitative"}, "y": {"datum": -3.132, "type": "quantitative"}, "text": {"value": "C"}}},
  {"data": {"values": [{"x":3.531,"y":-1.237,"o":0,"g":"TL"},{"x":3.793,"y":-1.5,"o":1,"g":"TL"},{"x":8.505,"y":2.816,"o":2,"g":"TL"},{"x":8.243,"y":3.079,"o":3,"g":"TL"},{"x":14.997,"y":9.921,"o":0,"g":"CH"},{"x":15.259,"y":9.668,"o":1,"g":"CH"},{"x":17.181,"y":11.658,"o":2,"g":"CH"},{"x":16.935,"y":11.921,"o":3,"g":"CH"}]}, "mark": {"type": "line", "color": "#333333", "strokeWidth": 0.9}, "encoding": {"x": {"field": "x", "type": "quantitative"}, "y": {"field": "y", "type": "quantitative"}, "order": {"field": "o", "type": "quantitative"}, "detail": {"field": "g"}}},
  {"data": {"values": [{}]}, "mark": {"type": "text", "angle": 45, "align": "center", "baseline": "middle", "font": "Liberation Sans", "fontSize": 14, "color": "#1a1a1a"}, "encoding": {"x": {"datum": 7.039, "type": "quantitative"}, "y": {"datum": -0.079, "type": "quantitative"}, "text": {"value": "TL Inversion"}}},
  {"data": {"values": [{}]}, "mark": {"type": "text", "angle": 45, "align": "center", "baseline": "middle", "font": "Liberation Sans", "fontSize": 14, "color": "#1a1a1a"}, "encoding": {"x": {"datum": 17.458, "type": "quantitative"}, "y": {"datum": 10.921, "type": "quantitative"}, "text": {"value": "CH Inversion"}}}
 ]},
{"width": 392, "height": 467,
 "layer": [
  {"data": {"name": "D"}, "mark": {"type": "square", "size": 367, "filled": true, "opacity": 1, "stroke": "#1e1e38", "strokeWidth": 0.7},
   "encoding": {"x": {"field": "c", "type": "quantitative", "scale": {"domain": [-1.542, 18.875], "nice": false, "zero": false}, "axis": null},
    "y": {"field": "r", "type": "quantitative", "scale": {"domain": [-6.94, 17.51], "nice": false, "zero": false, "reverse": true}, "axis": null},
    "fill": {"field": "v", "type": "ordinal", "scale": {"domain": [0,5,10,15,20,25,30,35,40,45,50], "range": ["#2E3192","#2C5A9B","#64ABA3","#A8D08E","#D5DF3F","#FFEF1A","#F8C633","#EEA633","#E6862C","#DD5E28","#D2232A"]}, "legend": null}}},
  {"data": {"name": "D"}, "transform": [{"filter": "datum.b == 1"}], "mark": {"type": "square", "size": 361, "filled": false, "opacity": 1, "stroke": "#ffffff", "strokeWidth": 3}, "encoding": {"x": {"field": "c", "type": "quantitative"}, "y": {"field": "r", "type": "quantitative"}}},
  {"data": {"name": "D"}, "transform": [{"filter": "datum.d == 'L'"}], "mark": {"type": "circle", "size": 36, "opacity": 1, "fill": "#ffffff", "stroke": "#333333", "strokeWidth": 0.8}, "encoding": {"x": {"field": "c", "type": "quantitative"}, "y": {"field": "r", "type": "quantitative"}}},
  {"data": {"name": "D"}, "transform": [{"filter": "datum.d == 'H'"}], "mark": {"type": "circle", "size": 36, "opacity": 1, "fill": "#111111", "stroke": "#ffffff", "strokeWidth": 1.2}, "encoding": {"x": {"field": "c", "type": "quantitative"}, "y": {"field": "r", "type": "quantitative"}}},
  {"data": {"name": "labAD"}, "transform": [{"filter": "!datum.it"}], "mark": {"type": "text", "angle": -45, "align": "left", "baseline": "middle", "dx": 15, "font": "Liberation Sans", "fontSize": 13.5, "color": "#1a1a1a"}, "encoding": {"x": {"field": "i", "type": "quantitative"}, "y": {"field": "i", "type": "quantitative"}, "text": {"field": "t"}}},
  {"data": {"name": "labAD"}, "transform": [{"filter": "datum.it"}], "mark": {"type": "text", "angle": -45, "align": "left", "baseline": "middle", "dx": 15, "font": "Liberation Sans", "fontStyle": "italic", "fontSize": 13.5, "color": "#1a1a1a"}, "encoding": {"x": {"field": "i", "type": "quantitative"}, "y": {"field": "i", "type": "quantitative"}, "text": {"field": "t"}}},
  {"data": {"values": [{}]}, "mark": {"type": "text", "align": "left", "baseline": "alphabetic", "font": "Open Sans", "fontSize": 14.5, "lineHeight": 19, "color": "#231f20"}, "encoding": {"x": {"datum": 9.292, "type": "quantitative"}, "y": {"datum": -1.338, "type": "quantitative"}, "text": {"value": ["All Chromosomes", "AR\u00a0\u00a0n = 19", "PP\u00a0\u00a0n = 19", "ST\u00a0\u00a0\u00a0n = 18", "CH\u00a0\u00a0n = 15", "TL\u00a0\u00a0\u00a0n =\u00a0\u00a0\u00a04"]}}},
  {"data": {"values": [{}]}, "mark": {"type": "text", "align": "left", "baseline": "alphabetic", "font": "Liberation Sans", "fontSize": 18, "fontWeight": "bold", "color": "#111"}, "encoding": {"x": {"datum": -1.4375, "type": "quantitative"}, "y": {"datum": -3.066, "type": "quantitative"}, "text": {"value": "D"}}}
 ]},
{"width": 400, "height": 107,
 "layer": [
  {"data": {"values": [{}]}, "mark": {"type": "rect", "filled": false, "stroke": "#333333", "strokeWidth": 1.8}, "encoding": {"x": {"datum": -18.3, "type": "quantitative", "scale": {"domain": [-19.006, 66.7], "nice": false, "zero": false}, "axis": null}, "x2": {"datum": 55.63}, "y": {"datum": 0.2105, "type": "quantitative", "scale": {"domain": [0, 5.632], "nice": false, "zero": false, "reverse": true}, "axis": null}, "y2": {"datum": 5.421}}},
  {"data": {"name": "leg"}, "mark": {"type": "square", "size": 380, "filled": true, "opacity": 1, "stroke": "#666666", "strokeWidth": 0.6}, "encoding": {"x": {"field": "v", "type": "quantitative"}, "y": {"datum": 2.826, "type": "quantitative"}, "fill": {"field": "v", "type": "ordinal", "scale": {"domain": [0,5,10,15,20,25,30,35,40,45,50], "range": ["#2E3192","#2C5A9B","#64ABA3","#A8D08E","#D5DF3F","#FFEF1A","#F8C633","#EEA633","#E6862C","#DD5E28","#D2232A"]}, "legend": null}}},
  {"data": {"name": "leg"}, "mark": {"type": "text", "align": "center", "baseline": "alphabetic", "font": "Liberation Sans", "fontSize": 14.5, "color": "#1a1a1a"}, "encoding": {"x": {"field": "v", "type": "quantitative"}, "y": {"datum": 4.279, "type": "quantitative"}, "text": {"field": "t"}}},
  {"data": {"values": [{}]}, "mark": {"type": "text", "align": "left", "baseline": "alphabetic", "font": "Liberation Sans", "fontSize": 14.5, "color": "#1a1a1a"}, "encoding": {"x": {"datum": -15.79, "type": "quantitative"}, "y": {"datum": 4.279, "type": "quantitative"}, "text": {"value": "Minimum"}}},
  {"data": {"values": [{}]}, "mark": {"type": "text", "align": "center", "baseline": "alphabetic", "font": "Liberation Sans", "fontSize": 14, "color": "#1a1a1a"}, "encoding": {"x": {"datum": 24.02, "type": "quantitative"}, "y": {"datum": 1.826, "type": "quantitative"}, "text": {"value": "% Significant LD Comparisons"}}},
  {"data": {"values": [{}]}, "mark": {"type": "circle", "size": 40, "opacity": 1, "fill": "#ffffff", "stroke": "#222222", "strokeWidth": 0.9}, "encoding": {"x": {"datum": -16.5, "type": "quantitative"}, "y": {"datum": 1.068, "type": "quantitative"}}},
  {"data": {"values": [{}]}, "mark": {"type": "circle", "size": 32, "opacity": 1, "fill": "#111111"}, "encoding": {"x": {"datum": -16.5, "type": "quantitative"}, "y": {"datum": 2.142, "type": "quantitative"}}},
  {"data": {"values": [{}]}, "mark": {"type": "text", "align": "left", "baseline": "alphabetic", "font": "Liberation Sans", "fontSize": 15, "color": "#1a1a1a"}, "encoding": {"x": {"datum": -14.14, "type": "quantitative"}, "y": {"datum": 1.289, "type": "quantitative"}, "text": {"value": "Low"}}},
  {"data": {"values": [{}]}, "mark": {"type": "text", "align": "left", "baseline": "alphabetic", "font": "Liberation Sans", "fontSize": 15, "color": "#1a1a1a"}, "encoding": {"x": {"datum": -14.14, "type": "quantitative"}, "y": {"datum": 2.368, "type": "quantitative"}, "text": {"value": "High"}}}
 ]},
{"width": 392, "height": 107,
 "layer": [
  {"data": {"name": "S"}, "mark": {"type": "square", "size": 365, "filled": true, "opacity": 1, "stroke": "#1e1e38", "strokeWidth": 0.7},
   "encoding": {"x": {"field": "c", "type": "quantitative", "scale": {"domain": [-1.542, 18.875], "nice": false, "zero": false}, "axis": null},
    "y": {"field": "r", "type": "quantitative", "scale": {"domain": [-1.079, 4.553], "nice": false, "zero": false, "reverse": true}, "axis": null},
    "fill": {"field": "v", "type": "ordinal", "scale": {"domain": [0,5,10,15,20,25,30,35,40,45,50], "range": ["#2E3192","#2C5A9B","#64ABA3","#A8D08E","#D5DF3F","#FFEF1A","#F8C633","#EEA633","#E6862C","#DD5E28","#D2232A"]}, "legend": null}}},
  {"data": {"name": "S"}, "transform": [{"filter": "datum.b == 1"}], "mark": {"type": "square", "size": 361, "filled": false, "opacity": 1, "stroke": "#ffffff", "strokeWidth": 3}, "encoding": {"x": {"field": "c", "type": "quantitative"}, "y": {"field": "r", "type": "quantitative"}}},
  {"data": {"name": "S"}, "transform": [{"filter": "datum.d == 'L'"}], "mark": {"type": "circle", "size": 36, "opacity": 1, "fill": "#ffffff", "stroke": "#333333", "strokeWidth": 0.8}, "encoding": {"x": {"field": "c", "type": "quantitative"}, "y": {"field": "r", "type": "quantitative"}}},
  {"data": {"name": "S"}, "transform": [{"filter": "datum.d == 'H'"}], "mark": {"type": "circle", "size": 36, "opacity": 1, "fill": "#111111", "stroke": "#ffffff", "strokeWidth": 1.2}, "encoding": {"x": {"field": "c", "type": "quantitative"}, "y": {"field": "r", "type": "quantitative"}}},
  {"data": {"name": "rows"}, "mark": {"type": "text", "align": "left", "baseline": "middle", "font": "Liberation Sans", "fontSize": 14.5, "color": "#1a1a1a"}, "encoding": {"x": {"datum": -1.802, "type": "quantitative"}, "y": {"field": "r", "type": "quantitative"}, "text": {"field": "t"}}}
 ]}
]
}
